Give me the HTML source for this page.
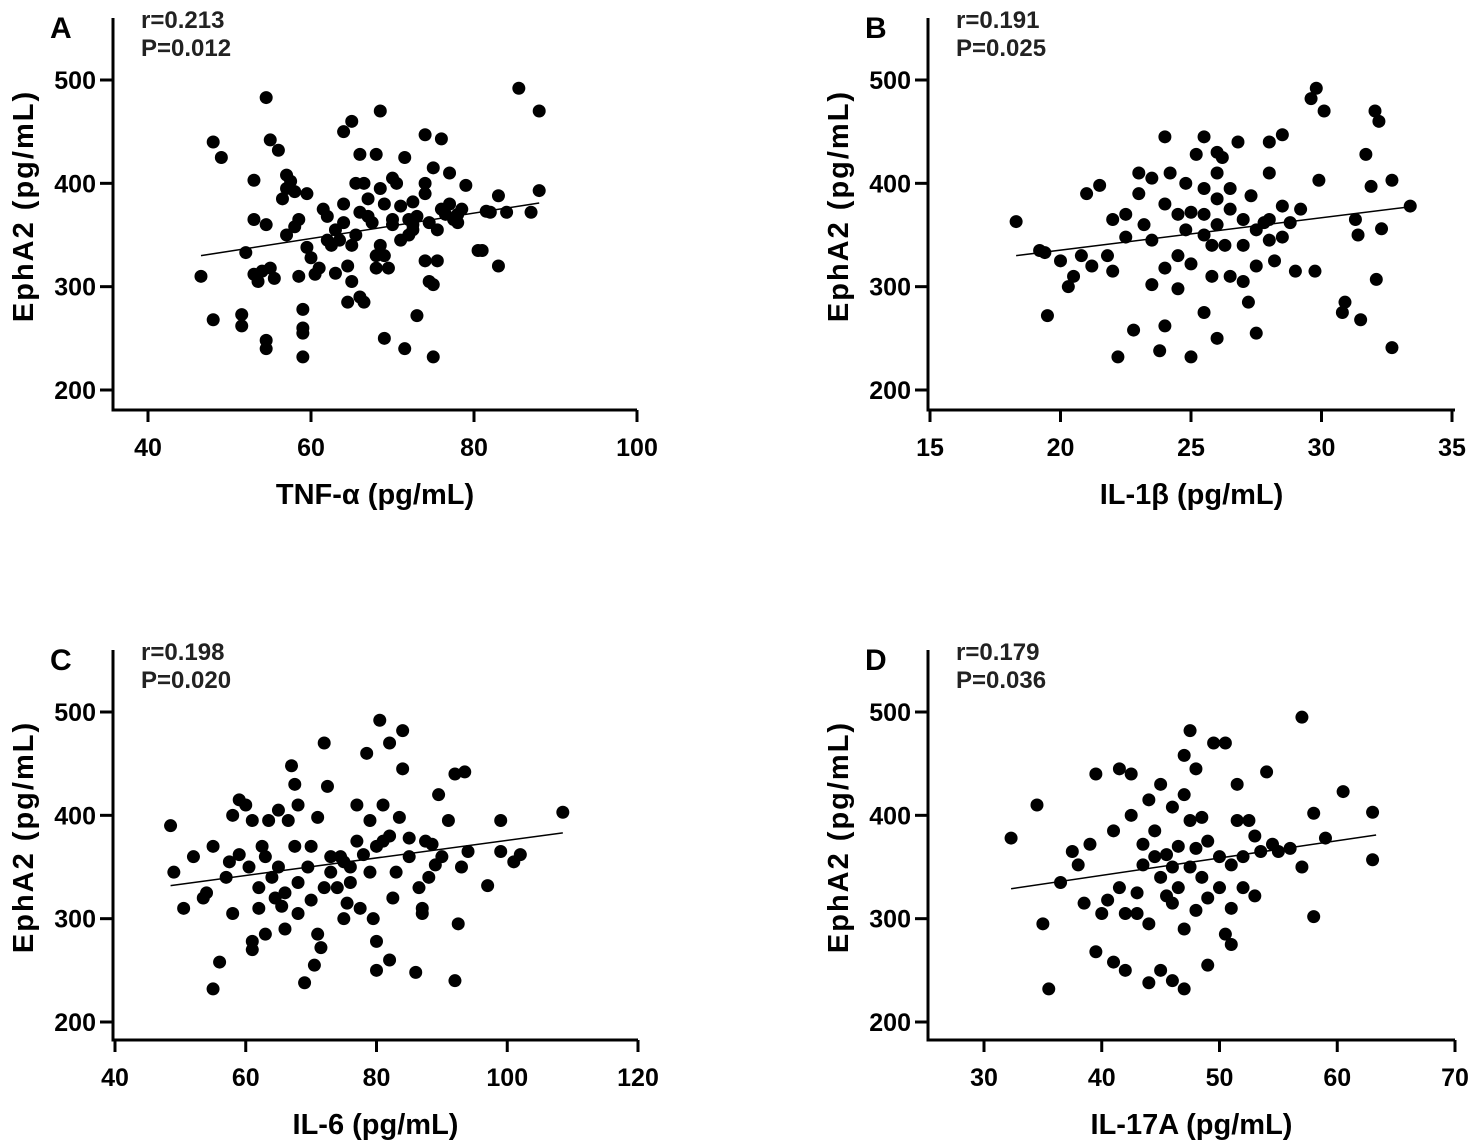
<!DOCTYPE html>
<html><head><meta charset="utf-8"><style>
html,body{margin:0;padding:0;background:#fff;}
svg{display:block;font-family:"Liberation Sans",Arial,sans-serif;font-weight:bold;}
</style></head><body>
<svg id="chart" width="1477" height="1147" viewBox="0 0 1477 1147"></svg>
<script>
const aX=[46.5,48,48,49,51.5,51.5,52,53,53,53,53.5,54,54.5,54.5,55,54.5,54.5,55,55.5,56,56.5,57,57,57,57.5,58,58,58.5,58.5,59,59,59,59,59.5,59.5,60,60.5,61,61.5,62,62,62.5,63,63,63.5,64,64,64,64.5,64.5,65,65,65.5,65,65.5,66,66,66,66.5,66.5,67,67.5,67,68,68,68,68.5,68.5,68.5,69,69,69,69.5,70,70,70,70.5,71,71,71.5,71.5,72,72,72.5,72.5,72.5,73,73,74,74,74,74,74.5,74.5,75,75,75,75.5,75.5,76,76,76.5,77,77,77.5,78,78,78.5,79,80.5,81,81.5,82,83,83,84,85.5,87,88,88];
const aY=[310,440,268,425,273,262,333,403,365,312,305,315,483,360,442,248,240,318,308,432,385,408,395,350,402,358,392,365,310,278,260,255,232,390,338,328,312,318,375,368,345,340,313,355,345,380,362,450,320,285,460,340,350,305,400,372,428,290,400,285,368,362,385,428,330,318,470,395,340,250,380,330,318,365,360,405,400,345,378,240,425,365,350,382,360,355,272,368,447,400,390,325,362,305,302,232,415,355,325,375,443,370,410,380,365,370,362,375,398,335,335,373,372,388,320,372,492,372,470,393];
const bX=[18.3,19.2,19.4,19.5,20,20.3,20.5,20.8,21,21.2,21.5,21.8,22,22,22.2,22.5,22.5,22.8,23,23,23.2,23.5,23.5,23.5,23.8,24,24,24,24,24.2,24.5,24.5,24.5,24.8,24.8,25,25,25,25.2,25.5,25.5,25.5,25.5,25.5,25.8,25.8,26,26,26,26,26,26.2,26.3,26.5,26.5,26.5,26.8,27,27,27,27.2,27.3,27.5,27.5,27.5,27.8,28,28,28,28.2,28.5,28.5,28.8,28,28.5,29,29.2,29.6,29.8,29.75,29.9,30.1,30.9,30.8,31.3,31.4,31.5,31.7,31.9,32.05,32.2,32.1,32.3,32.7,32.7,33.4];
const bY=[363,335,333,272,325,300,310,330,390,320,398,330,365,315,232,370,348,258,410,390,360,405,345,302,238,445,380,318,262,410,370,330,298,400,355,232,372,322,428,395,445,370,350,275,340,310,410,430,385,360,250,425,340,395,375,310,440,365,340,305,285,388,355,320,255,362,410,365,345,325,348,378,362,440,447,315,375,482,492,315,403,470,285,275,365,350,268,428,397,470,460,307,356,403,241,378];
const cX=[48.5,49,50.5,52,53.5,54,55,55,56,57,57.5,58,58,59,59,60,60.5,61,61,61,62,62,62.5,63,63,63.5,64,64.5,65,65,65.5,66,66,66.5,67,67.5,67.5,68,68,68,69,69.5,70,70,70.5,71,71,71.5,72,72,72.5,73,73,74,74.5,75,75,75.5,76,76,77,77,77.5,78,78.5,79,79,79.5,80,80,80,80.5,81,81,82,82,82,82.5,83,83.5,84,84,85,85,86,86.5,87,87,87.5,88,88.5,89,89.5,90,91,92,92,92.5,93,93.5,94,97,99,99,101,102,108.5];
const cY=[390,345,310,360,320,325,370,232,258,340,355,305,400,415,362,410,350,395,270,278,330,310,370,285,360,395,340,320,405,350,312,325,290,395,448,430,370,410,335,305,238,350,370,318,255,398,285,272,470,330,428,360,345,330,360,355,300,315,350,335,375,410,310,362,460,395,345,300,278,250,370,492,410,375,260,470,380,320,345,398,482,445,378,360,248,330,310,305,375,340,372,352,420,360,395,240,440,295,350,442,365,332,395,365,355,362,403];
const dX=[32.3,34.5,35,35.5,36.5,37.5,38,38.5,39,39.5,39.5,40,40.5,41,41,41.5,41.5,42,42,42.5,42.5,43,43,43.5,43.5,44,44,44,44.5,44.5,45,45,45,45.5,45.5,46,46,46,46,46.5,46.5,47,47,47,47,47.5,47.5,47.5,48,48,48,48.5,48.5,49,49,49,49.5,50,50,50.5,50.5,51,51,51,51.5,51.5,52,52,52.5,53,53,53.5,54,54.5,55,56,57,57,58,58,59,60.5,63,63];
const dY=[378,410,295,232,335,365,352,315,372,440,268,305,318,385,258,445,330,250,305,440,400,325,305,352,372,415,295,238,385,360,430,340,250,362,322,408,350,315,240,370,330,458,420,290,232,482,395,350,445,368,308,398,340,375,255,320,470,360,330,470,285,352,310,275,430,395,360,330,395,380,322,365,442,372,365,368,495,350,402,302,378,423,403,357];
const panelLetters=["A","B","C","D"];
const rLabels=["r=0.213","r=0.191","r=0.198","r=0.179"];
const pLabels=["P=0.012","P=0.025","P=0.020","P=0.036"];
const xTitles=["TNF-α (pg/mL)","IL-1β (pg/mL)","IL-6 (pg/mL)","IL-17A (pg/mL)"];
const xTicksA=[40,60,80,100], xTicksB=[15,20,25,30,35], xTicksC=[40,60,80,100,120], xTicksD=[30,40,50,60,70];
const yTicks=[200,300,400,500];
const fitA=[[46.5,330],[88,381]], fitB=[[18.3,330],[33.3,377]], fitC=[[48.5,332],[108.5,383]], fitD=[[32.3,329],[63.3,381]];

const NS="http://www.w3.org/2000/svg";
const svg=document.getElementById('chart');
function mk(tag,attrs,parent,text){const e=document.createElementNS(NS,tag);for(const k in attrs)e.setAttribute(k,attrs[k]);if(text!==undefined)e.textContent=text;parent.appendChild(e);return e;}

const panels=[
 {xs:aX,ys:aY,xt:xTicksA,fit:fitA,ox:113,xr:637,x0:40,px0:148,px1:637,x1:100,yBase:410,py500:80,py200:390,id:'a'},
 {xs:bX,ys:bY,xt:xTicksB,fit:fitB,ox:928,xr:1455,x0:15,px0:930,px1:1452,x1:35,yBase:410,py500:80,py200:390,id:'b'},
 {xs:cX,ys:cY,xt:xTicksC,fit:fitC,ox:113,xr:638,x0:40,px0:115,px1:638,x1:120,yBase:1040,py500:712,py200:1022,id:'c'},
 {xs:dX,ys:dY,xt:xTicksD,fit:fitD,ox:928,xr:1455,x0:30,px0:984,px1:1455,x1:70,yBase:1040,py500:712,py200:1022,id:'d'}
];
const titleLen=[205,180,140,190];
panels.forEach((p,i)=>{
  const g=mk('g',{},svg);
  
  
  const sx=v=>p.px0+(v-p.x0)*(p.px1-p.px0)/(p.x1-p.x0);
  const sy=v=>p.py200-(v-200)*(p.py200-p.py500)/300;
  const top=sy(560);
  const ya=mk('line',{x1:p.ox,y1:top,x2:p.ox,y2:p.yBase,stroke:'#000','stroke-width':3},g);
  
  const xa=mk('line',{x1:p.ox-1.5,y1:p.yBase,x2:p.xr,y2:p.yBase,stroke:'#000','stroke-width':3},g);
  
  yTicks.forEach(t=>{const y=sy(t);
    mk('line',{x1:p.ox-13,y1:y,x2:p.ox,y2:y,stroke:'#000','stroke-width':3},g);
    const tl=mk('text',{x:p.ox-17,y:y+9,'text-anchor':'end','font-size':25},g,String(t));
    });
  p.xt.forEach(t=>{const x=sx(t);
    mk('line',{x1:x,y1:p.yBase,x2:x,y2:p.yBase+12,stroke:'#000','stroke-width':3},g);
    const tl=mk('text',{x:x,y:p.yBase+46,'text-anchor':'middle','font-size':25},g,String(t));
    });
  const xtl=mk('text',{x:(p.ox+p.xr)/2,y:p.yBase+94,'text-anchor':'middle','font-size':29},g,xTitles[i]);
  
  const cy=(top+p.yBase)/2-8;
  const ytl=mk('text',{x:p.ox-80,y:cy,'text-anchor':'middle','font-size':29,'letter-spacing':2,transform:`rotate(-90 ${p.ox-80} ${cy})`},g,'EphA2 (pg/mL)');
  
  const lt=mk('text',{x:p.ox-63,y:top+20,'font-size':30},g,panelLetters[i]);
  
  const rt=mk('text',{x:p.ox+28,y:top+10,'font-size':24,fill:'#222'},g,rLabels[i]);
  
  const pt=mk('text',{x:p.ox+28,y:top+38,'font-size':24,fill:'#222'},g,pLabels[i]);
  
  p.xs.forEach((v,j)=>{
    const c=mk('circle',{cx:sx(v),cy:sy(p.ys[j]),r:6.5,fill:'#000'},g);
    
    
  });
  const fl=mk('line',{x1:sx(p.fit[0][0]),y1:sy(p.fit[0][1]),x2:sx(p.fit[1][0]),y2:sy(p.fit[1][1]),stroke:'#000','stroke-width':1.5},g);
  
  
});
</script>
</body></html>
